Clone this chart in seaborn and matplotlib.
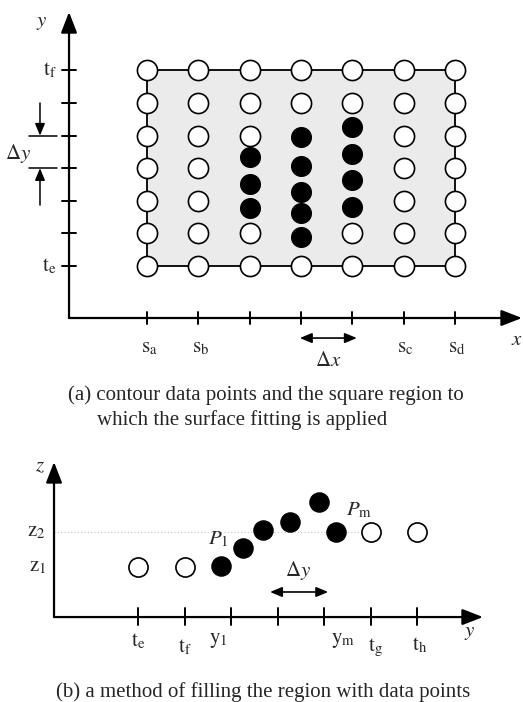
import numpy as np
import pandas as pd
import matplotlib
matplotlib.use("Agg")
import matplotlib.pyplot as plt
import seaborn as sns

sns.set_theme(style="white")
plt.rcParams['font.family'] = ['Liberation Serif', 'DejaVu Serif']
plt.rcParams['mathtext.fontset'] = 'stix'

# ---------------- data: panel (a) ----------------
grid_cols = [0, 1, 2, 3, 4, 5, 6]
grid_rows = [0, 1, 2, 3, 4, 5, 6]
# grid cells replaced by contour points (col, row)
removed_cells = [(2, 2), (2, 3), (3, 1), (3, 2), (3, 3), (3, 4), (4, 2), (4, 3), (4, 4)]
contour_x = [2, 2, 2, 3, 3, 3, 3, 3, 4, 4, 4, 4]
contour_y = [3.34, 2.52, 1.78, 3.96, 3.07, 2.27, 1.63, 0.89, 4.26, 3.44, 2.64, 1.81]
x_tick_labels = {0: r'$\mathrm{s}_\mathrm{a}$', 1: r'$\mathrm{s}_\mathrm{b}$',
                 5: r'$\mathrm{s}_\mathrm{c}$', 6: r'$\mathrm{s}_\mathrm{d}$'}
y_tick_labels = {0: r'$\mathrm{t}_\mathrm{e}$', 6: r'$\mathrm{t}_\mathrm{f}$'}

# ---------------- data: panel (b) ----------------
open_y = [0, 1, 5, 6]
open_z = [1, 1, 2, 2]
fill_y = [1.78, 2.26, 2.69, 3.27, 3.89, 4.26]
fill_z = [1.03, 1.54, 2.06, 2.29, 2.86, 2.00]
b_ticks = [0, 1, 2, 3, 4, 5, 6]
b_tick_labels = [(0, -1.14, r'$\mathrm{t}_\mathrm{e}$'), (1, -1.31, r'$\mathrm{t}_\mathrm{f}$'),
                 (1.72, -1.09, r'$\mathrm{y}_1$'), (4.4, -1.09, r'$\mathrm{y}_\mathrm{m}$'),
                 (5.1, -1.31, r'$\mathrm{t}_\mathrm{g}$'), (6.05, -1.23, r'$\mathrm{t}_\mathrm{h}$')]

W, H = 523, 702
fig = plt.figure(figsize=(W / 100, H / 100), dpi=100)
fig.patch.set_facecolor('white')

FS = 15
CFS = 15
arrow_kw = dict(arrowstyle='-|>,head_length=0.9,head_width=0.35', color='black', lw=1.6,
                shrinkA=0, shrinkB=0, mutation_scale=14)

# ================= panel (a) =================
axA = fig.add_axes([0, 1 - 380 / H, 1, 380 / H])
axA.set_xlim(-147 / 51.3, (523 - 147) / 51.3)
axA.set_ylim((266 - 380) / 32.6, 266 / 32.6)
axA.axis('off')

# shaded region and border
axA.fill_between([grid_cols[0], grid_cols[-1]], grid_rows[0], grid_rows[-1],
                 color='#ebebeb', lw=0, zorder=0)
axA.plot([grid_cols[0], grid_cols[-1], grid_cols[-1], grid_cols[0], grid_cols[0]],
         [grid_rows[0], grid_rows[0], grid_rows[-1], grid_rows[-1], grid_rows[0]],
         color='black', lw=1.3, zorder=1)

# axes with arrows
ax_x0, ax_y0 = -1.52, -1.595
axA.annotate('', xy=(7.31, ax_y0), xytext=(ax_x0, ax_y0), arrowprops=arrow_kw)
axA.annotate('', xy=(ax_x0, 7.79), xytext=(ax_x0, ax_y0), arrowprops=arrow_kw)
for r in grid_rows:
    axA.plot([ax_x0 - 0.14, ax_x0 + 0.14], [r, r], color='black', lw=1.4)
for c in grid_cols:
    axA.plot([c, c], [ax_y0 - 0.18, ax_y0 + 0.18], color='black', lw=1.4)

open_pts = [(c, r) for c in grid_cols for r in grid_rows if (c, r) not in removed_cells]
dfo = pd.DataFrame(open_pts, columns=['x', 'y'])
dff = pd.DataFrame({'x': contour_x, 'y': contour_y})
sns.scatterplot(data=dfo, x='x', y='y', ax=axA, color='white', edgecolor='black',
                linewidth=1.2, s=210, zorder=3, legend=False)
sns.scatterplot(data=dff, x='x', y='y', ax=axA, color='black', edgecolor='black',
                linewidth=1.0, s=200, zorder=3, legend=False)
axA.set_xlabel('')
axA.set_ylabel('')

for c, lab in x_tick_labels.items():
    axA.text(c + 0.04, -2.5, lab, ha='center', va='center', fontsize=FS)
for r, lab in y_tick_labels.items():
    axA.text(-1.76, r, lab, ha='right', va='center', fontsize=FS)
axA.text(7.21, -2.27, r'$x$', ha='center', va='center', fontsize=FS)
axA.text(-2.05, 7.48, r'$y$', ha='center', va='center', fontsize=FS)

# delta y marker on left
axA.plot([-2.30, -1.754], [4, 4], color='black', lw=1.1)
axA.plot([-2.30, -1.754], [3, 3], color='black', lw=1.1)
small_arrow = dict(arrowstyle='-|>,head_length=0.6,head_width=0.25', color='black', lw=1.1,
                   shrinkA=0, shrinkB=0, mutation_scale=12)
axA.annotate('', xy=(-2.086, 4), xytext=(-2.086, 5.0), arrowprops=small_arrow)
axA.annotate('', xy=(-2.086, 3), xytext=(-2.086, 1.87), arrowprops=small_arrow)
axA.text(-2.52, 3.45, r'$\Delta y$', ha='center', va='center', fontsize=FS)

# delta x
dbl_arrow = dict(arrowstyle='<|-|>,head_length=0.6,head_width=0.25', color='black', lw=1.2,
                 shrinkA=0, shrinkB=0, mutation_scale=12)
axA.annotate('', xy=(4.09, -2.21), xytext=(2.98, -2.21), arrowprops=dbl_arrow)
axA.text(3.53, -2.94, r'$\Delta x$', ha='center', va='center', fontsize=FS)

# ================= panel (b) =================
axB = fig.add_axes([0, 0, 1, (H - 380) / H])
axB.set_xlim(-138 / 46.5, (523 - 138) / 46.5)
axB.set_ylim((602 - 702) / 35, (602 - 380) / 35)
axB.axis('off')

bx0, bz0 = -1.806, -0.43
axB.annotate('', xy=(7.419, bz0), xytext=(bx0, bz0), arrowprops=arrow_kw)
axB.annotate('', xy=(bx0, 4.0), xytext=(bx0, bz0), arrowprops=arrow_kw)
for k in b_ticks:
    axB.plot([k, k], [bz0 - 0.23, bz0 + 0.26], color='black', lw=1.4)
axB.plot([bx0, 5.0], [2, 2], color='#c4c4c4', lw=0.8, ls=(0, (1, 2)), zorder=0)

dbo = pd.DataFrame({'y': open_y, 'z': open_z})
dbf = pd.DataFrame({'y': fill_y, 'z': fill_z})
sns.scatterplot(data=dbo, x='y', y='z', ax=axB, color='white', edgecolor='black',
                linewidth=1.2, s=190, zorder=3, legend=False)
sns.scatterplot(data=dbf, x='y', y='z', ax=axB, color='black', edgecolor='black',
                linewidth=1.0, s=190, zorder=3, legend=False)
axB.set_xlabel('')
axB.set_ylabel('')

for x, z, lab in b_tick_labels:
    axB.text(x, z, lab, ha='center', va='center', fontsize=FS)
axB.text(-1.98, 2, r'$\mathrm{z}_2$', ha='right', va='center', fontsize=FS)
axB.text(-1.98, 1, r'$\mathrm{z}_1$', ha='right', va='center', fontsize=FS)
axB.text(-2.11, 3.86, r'$z$', ha='center', va='center', fontsize=FS)
axB.text(7.14, -0.86, r'$y$', ha='center', va='center', fontsize=FS)
axB.text(1.72, 1.8, r'$P_1$', ha='center', va='center', fontsize=FS)
axB.text(4.75, 2.62, r'$P_\mathrm{m}$', ha='center', va='center', fontsize=FS)
axB.annotate('', xy=(4.09, 0.286), xytext=(2.84, 0.286), arrowprops=dbl_arrow)
axB.text(3.44, 0.886, r'$\Delta y$', ha='center', va='center', fontsize=FS)

# captions
fig.text(68 / W, 1 - 395 / H, '(a) contour data points and the square region to',
         ha='left', va='center', fontsize=CFS)
fig.text(97 / W, 1 - 420 / H, 'which the surface fitting is applied',
         ha='left', va='center', fontsize=CFS)
fig.text(263 / W, 1 - 692 / H, '(b) a method of filling the region with data points',
         ha='center', va='center', fontsize=CFS)

fig.savefig('out.png', dpi=100, facecolor='white')
